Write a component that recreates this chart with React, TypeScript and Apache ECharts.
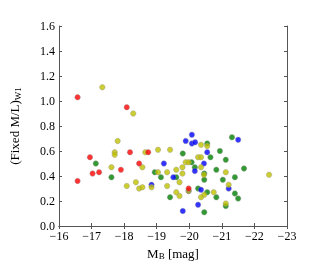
import React, { useEffect, useRef } from "react";
import * as echarts from "echarts";

const xTicks = [-16, -17, -18, -19, -20, -21, -22, -23];
const yTicks = [0, 0.2, 0.4, 0.6, 0.8, 1.0, 1.2, 1.4, 1.6];

const redPts: [number, number][] = [
  [-16.57, 1.03], [-18.08, 0.95], [-16.57, 0.36], [-16.95, 0.55], [-17.03, 0.42],
  [-17.23, 0.43], [-17.9, 0.45], [-18.18, 0.59], [-18.46, 0.5], [-18.74, 0.59],
  [-19.98, 0.3],
];

const yellowPts: [number, number][] = [
  [-17.33, 1.11], [-18.28, 0.9], [-17.61, 0.47], [-17.8, 0.68], [-17.71, 0.59],
  [-17.71, 0.57], [-18.08, 0.32], [-18.36, 0.35], [-18.46, 0.3], [-18.56, 0.31],
  [-18.56, 0.47], [-18.65, 0.59], [-18.84, 0.31], [-19.04, 0.61], [-19.04, 0.43],
  [-19.32, 0.43], [-19.41, 0.61], [-19.32, 0.32], [-19.6, 0.45], [-19.6, 0.27],
  [-19.7, 0.35], [-19.7, 0.24], [-19.79, 0.42], [-19.89, 0.51], [-19.98, 0.51],
  [-19.98, 0.28], [-20.27, 0.55], [-20.36, 0.55], [-20.36, 0.65], [-20.55, 0.64],
  [-20.36, 0.47], [-20.45, 0.41], [-20.46, 0.25], [-20.36, 0.23], [-20.75, 0.27],
  [-21.12, 0.43], [-21.21, 0.33], [-21.12, 0.18], [-22.45, 0.41], [-19.79, 0.47],
];

const greenPts: [number, number][] = [
  [-17.13, 0.5], [-17.61, 0.39], [-18.94, 0.43], [-19.13, 0.39], [-19.41, 0.23],
  [-19.6, 0.39], [-19.8, 0.58], [-20.07, 0.51], [-20.17, 0.47], [-20.27, 0.3],
  [-20.55, 0.66], [-20.65, 0.55], [-20.46, 0.42], [-20.46, 0.37], [-20.55, 0.27],
  [-20.83, 0.23], [-20.83, 0.45], [-20.94, 0.6], [-21.12, 0.53], [-21.31, 0.71],
  [-21.68, 0.46], [-21.4, 0.39], [-21.03, 0.37], [-21.4, 0.26], [-21.5, 0.22],
  [-21.12, 0.16], [-20.46, 0.11],
];

const bluePts: [number, number][] = [
  [-18.84, 0.33], [-19.22, 0.5], [-19.51, 0.39], [-19.89, 0.68], [-20.08, 0.73],
  [-20.08, 0.66], [-20.18, 0.67], [-20.55, 0.59], [-20.45, 0.5], [-20.17, 0.44],
  [-19.98, 0.28], [-20.36, 0.29], [-20.27, 0.17], [-19.8, 0.12], [-21.5, 0.69],
  [-21.21, 0.3],
];

const FONT = "Liberation Serif";

const fmtX = (v: number) => (v < 0 ? "\u2212" + Math.abs(v) : String(v));

export default function App() {
  const ref = useRef<HTMLDivElement>(null);
  useEffect(() => {
    if (!ref.current) return;
    const chart = echarts.init(ref.current, undefined, { renderer: "svg" });
    const axisLine = { show: true, lineStyle: { color: "#555", width: 1 } };
    const tick = { show: true, inside: true, length: 3, lineStyle: { color: "#555" } };
    const mk = (data: [number, number][], color: string) => ({
      type: "scatter",
      data,
      symbol: "circle",
      symbolSize: 5.5,
      itemStyle: { color, borderColor: "#999", borderWidth: 0.5 },
      xAxisIndex: 0,
      yAxisIndex: 0,
    });
    chart.setOption({
      animation: false,
      grid: { left: 48, top: 26, right: 33, bottom: 41 },
      xAxis: [
        {
          type: "value",
          min: -23,
          max: -16,
          interval: 1,
          inverse: true,
          axisLine,
          axisTick: tick,
          splitLine: { show: false },
          axisLabel: {
            formatter: fmtX,
            fontFamily: FONT,
            fontSize: 12,
            color: "#000",
            margin: 4,
          },
          name: "{a|M}{b|B}{a| [mag]}",
          nameLocation: "middle",
          nameGap: 9,
          nameTextStyle: {
            rich: {
              a: { fontFamily: FONT, fontSize: 13, color: "#000" },
              b: { fontFamily: FONT, fontSize: 9, color: "#000", padding: [6, 0, 0, 0] },
            },
          },
        },
        {
          type: "value",
          min: -23,
          max: -16,
          interval: 1,
          inverse: true,
          position: "top",
          axisLine,
          axisTick: tick,
          axisLabel: { show: false },
          splitLine: { show: false },
        },
      ],
      yAxis: [
        {
          type: "value",
          min: 0,
          max: 1.6,
          interval: 0.2,
          axisLine,
          axisTick: tick,
          splitLine: { show: false },
          axisLabel: {
            formatter: (v: number) => v.toFixed(1),
            fontFamily: FONT,
            fontSize: 12,
            lineHeight: 12,
            color: "#000",
            margin: 4,
            padding: [0, 0, 2, 0],
          },
          name: "{a|(Fixed M/L)}{b|W1}",
          nameLocation: "middle",
          nameRotate: 90,
          nameGap: 37,
          nameTextStyle: {
            rich: {
              a: { fontFamily: FONT, fontSize: 13, color: "#000" },
              b: { fontFamily: FONT, fontSize: 9, color: "#000", padding: [6, 0, 0, 0] },
            },
          },
        },
        {
          type: "value",
          min: 0,
          max: 1.6,
          interval: 0.2,
          position: "right",
          axisLine,
          axisTick: tick,
          axisLabel: { show: false },
          splitLine: { show: false },
        },
      ],
      series: [
        mk(greenPts, "#008000"),
        mk(bluePts, "#0000ff"),
        mk(yellowPts, "#bfbf00"),
        mk(redPts, "#ff0000"),
      ],
    });
    return () => chart.dispose();
  }, []);
  return (
    <div
      ref={ref}
      style={{ position: "fixed", left: 0, top: 0, width: 320, height: 267 }}
    />
  );
}
